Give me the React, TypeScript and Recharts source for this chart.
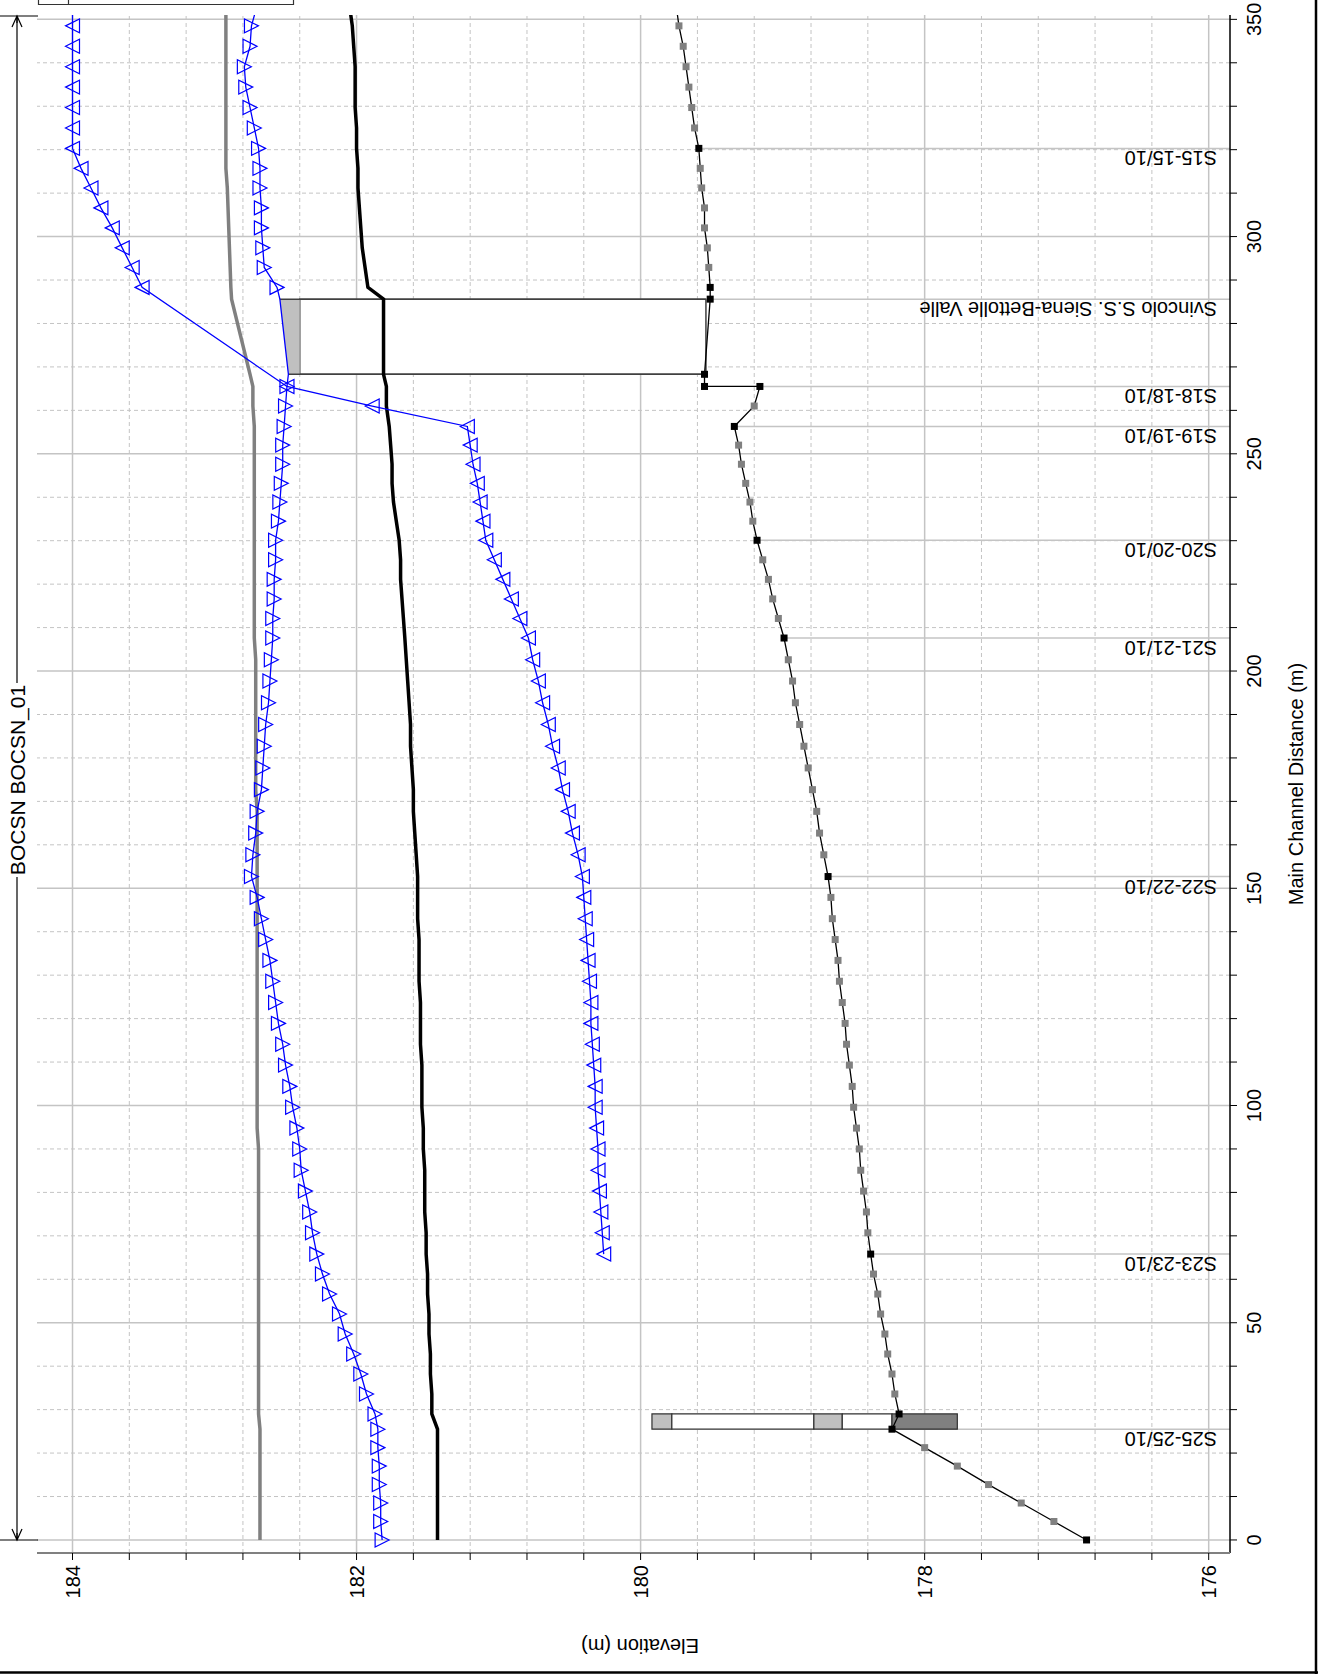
import React from 'react';
import { ComposedChart, Line, Area, XAxis, YAxis, ReferenceLine, ReferenceArea } from 'recharts';

// river stations along the main channel (m)
const stations = [
  0, 4.25, 8.5, 12.75, 17, 21.25, 25.5,
  29, 33.6, 38.2, 42.8, 47.4, 52, 56.6, 61.2,
  65.8, 70.7, 75.5, 80.3, 85.1, 90, 94.8, 99.6,
  104.4, 109.3, 114.1, 118.9, 123.7, 128.6, 133.4, 138.2,
  143, 147.9, 152.7,
  157.7, 162.7, 167.7, 172.7, 177.7, 182.7, 187.7, 192.7, 197.7, 202.6, 207.6,
  212.1, 216.6, 221.1, 225.6, 230.1,
  234.5, 238.9, 243.2, 247.6, 252, 256.3,
  261, 265.5,
  268.3, 285.6,
  288.3, 292.9, 297.4, 302, 306.6, 311.2, 315.7, 320.3,
  325, 329.7, 334.4, 339.1, 343.8, 348.5, 353.2,
];

// water surface, down triangles
const wsDown = [
  181.82, 181.83, 181.83, 181.84, 181.84, 181.85, 181.85,
  181.87, 181.93, 181.97, 182.02, 182.08, 182.12, 182.19, 182.24,
  182.28, 182.31, 182.33, 182.36, 182.39, 182.4, 182.42, 182.45,
  182.47, 182.5, 182.52, 182.55, 182.57, 182.59, 182.61, 182.64,
  182.67, 182.7, 182.74,
  182.73, 182.71, 182.7, 182.67, 182.66, 182.65, 182.64, 182.62, 182.61, 182.6, 182.59,
  182.59, 182.58, 182.58, 182.57, 182.57,
  182.55, 182.54, 182.53, 182.52, 182.52, 182.51,
  182.5, 182.49,
  182.48, 182.54,
  182.56, 182.65, 182.66, 182.67, 182.67, 182.68, 182.68, 182.69,
  182.72, 182.75, 182.78, 182.79, 182.75, 182.74, 182.7,
];

// water surface, up triangles
const wsUp = [
  null, null, null, null, null, null, null,
  null, null, null, null, null, null, null, null,
  180.26, 180.27, 180.28, 180.29, 180.3, 180.3, 180.31, 180.32,
  180.32, 180.33, 180.34, 180.35, 180.35, 180.36, 180.37, 180.38,
  180.39, 180.4, 180.41,
  180.44, 180.48, 180.51, 180.55, 180.58, 180.62, 180.65, 180.69, 180.72, 180.76, 180.79,
  180.85, 180.91, 180.97, 181.03, 181.09,
  181.11, 181.13, 181.15, 181.18, 181.2, 181.22,
  181.89, 182.49,
  null, null,
  183.51, 183.58, 183.65, 183.72, 183.8, 183.87, 183.94, 184,
  184, 184, 184, 184, 184, 184, 184,
];

// thick grey profile
const egGrey = [
  182.68, 182.68, 182.68, 182.68, 182.68, 182.68, 182.68,
  182.69, 182.69, 182.69, 182.69, 182.69, 182.69, 182.69, 182.69,
  182.69, 182.69, 182.69, 182.69, 182.69, 182.69, 182.7, 182.7,
  182.7, 182.7, 182.7, 182.7, 182.7, 182.7, 182.7, 182.7,
  182.7, 182.7, 182.7,
  182.7, 182.7, 182.7, 182.71, 182.71, 182.71, 182.71, 182.71, 182.71, 182.71, 182.72,
  182.72, 182.72, 182.72, 182.72, 182.72,
  182.72, 182.72, 182.72, 182.72, 182.72, 182.72,
  182.73, 182.73,
  182.75, 182.88,
  182.885, 182.89, 182.895, 182.9, 182.905, 182.91, 182.92, 182.92,
  182.92, 182.92, 182.92, 182.92, 182.92, 182.92, 182.92,
];

// thick black profile
const wsBlack = [
  181.43, 181.43, 181.43, 181.43, 181.43, 181.43, 181.43,
  181.47, 181.47, 181.48, 181.48, 181.49, 181.49, 181.5, 181.5,
  181.51, 181.51, 181.52, 181.52, 181.52, 181.53, 181.53, 181.54,
  181.54, 181.54, 181.55, 181.55, 181.55, 181.56, 181.56, 181.56,
  181.57, 181.57, 181.57,
  181.58, 181.59, 181.6, 181.6, 181.61, 181.62, 181.62, 181.63, 181.64, 181.65, 181.66,
  181.67, 181.68, 181.69, 181.69, 181.7,
  181.72, 181.74, 181.75, 181.75, 181.76, 181.77,
  181.79, 181.79,
  181.81, 181.81,
  181.92, 181.94, 181.96, 181.97, 181.98, 181.99, 181.99, 182,
  182, 182.01, 182.01, 182.01, 182.02, 182.03, 182.05,
];

// channel bed
const groundDist = [
  0, 4.25, 8.5, 12.75, 17, 21.25, 25.5,
  29, 33.6, 38.2, 42.8, 47.4, 52, 56.6, 61.2,
  65.8, 70.7, 75.5, 80.3, 85.1, 90, 94.8, 99.6,
  104.4, 109.3, 114.1, 118.9, 123.7, 128.6, 133.4, 138.2,
  143, 147.9, 152.7,
  157.7, 162.7, 167.7, 172.7, 177.7, 182.7, 187.7, 192.7, 197.7, 202.6, 207.6,
  212.1, 216.6, 221.1, 225.6, 230.1,
  234.5, 238.9, 243.2, 247.6, 252, 256.3,
  261, 265.5, 265.5,
  268.3, 285.6,
  288.3, 292.9, 297.4, 302, 306.6, 311.2, 315.7, 320.3,
  325, 329.7, 334.4, 339.1, 343.8, 348.5, 353.2,
];
const groundElev = [
  176.86, 177.09, 177.32, 177.55, 177.77, 178, 178.23,
  178.18, 178.21, 178.23, 178.26, 178.28, 178.31, 178.33, 178.36,
  178.38, 178.4, 178.41, 178.43, 178.45, 178.46, 178.48, 178.5,
  178.51, 178.53, 178.55, 178.56, 178.58, 178.6, 178.61, 178.63,
  178.65, 178.66, 178.68,
  178.71, 178.74, 178.76, 178.79, 178.82, 178.85, 178.88, 178.91, 178.93, 178.96, 178.99,
  179.03, 179.07, 179.1, 179.14, 179.18,
  179.21, 179.23, 179.26, 179.29, 179.31, 179.34,
  179.2, 179.16, 179.55,
  179.55, 179.51,
  179.51, 179.52, 179.53, 179.55, 179.55, 179.57, 179.58, 179.59,
  179.62, 179.64, 179.66, 179.68, 179.7, 179.73, 179.75,
];
// surveyed sections (black squares), the rest are interpolated
const surveyed = [0, 25.5, 29, 65.8, 152.7, 207.6, 230.1, 256.3, 265.5, 268.3, 285.6, 288.3, 320.3];
const noMarker = [268.3, 285.6];

const sectionLabels = [
  { name: 'S25-25/10', d: 25.5 },
  { name: 'S23-23/10', d: 65.8 },
  { name: 'S22-22/10', d: 152.7 },
  { name: 'S21-21/10', d: 207.6 },
  { name: 'S20-20/10', d: 230.1 },
  { name: 'S19-19/10', d: 256.3 },
  { name: 'S18-18/10', d: 265.5 },
  { name: 'Svincolo S.S. Siena-Bettolle Valle', d: 285.6 },
  { name: 'S15-15/10', d: 320.3 },
];

// culvert (Svincolo): faces, invert, soffit, deck top at each face
const culvertFaces = [268.3, 285.6];
const culvertInvert = 179.54;
const culvertSoffit = 182.4;
const deckTop = [182.48, 182.54];

// weir / drop structure near S25
const weirFaces = [25.5, 29];
const weirBlocks = [
  [179.78, 179.92],
  [178.78, 179.78],
  [178.58, 178.78],
  [178.23, 178.58],
  [177.77, 178.23],
];
const weirFills = ['#c0c0c0', '#ffffff', '#c0c0c0', '#ffffff', '#808080'];

const distTicks = [0, 10, 20, 30, 40, 50, 60, 70, 80, 90, 100, 110, 120, 130, 140, 150, 160, 170, 180, 190, 200,
  210, 220, 230, 240, 250, 260, 270, 280, 290, 300, 310, 320, 330, 340, 350];
const elevTicks = [176, 176.4, 176.8, 177.2, 177.6, 178, 178.4, 178.8, 179.2, 179.6, 180, 180.4, 180.8, 181.2,
  181.6, 182, 182.4, 182.8, 183.2, 183.6, 184];

const X_DOMAIN = [-3, 351];
const Y_DOMAIN = [175.85, 184.25];

const FONT = '"Liberation Sans", Arial, Helvetica, sans-serif';
const W = 1674;
const H = 1318;
const GRID = '#c4c4c4';

const isMajorDist = (v: number) => v % 50 === 0;
const isMajorElev = (v: number) => Number.isInteger(v) && v % 2 === 0;

const series = (vals: (number | null)[]) =>
  stations.map((d, i) => ({ d, v: vals[i] })).filter((p) => p.v !== null);

const groundData = groundDist.map((d, i) => ({ d, v: groundElev[i] }));
const deckData = culvertFaces.map((d, i) => ({ d, v: [culvertSoffit, deckTop[i]] }));

const bedAt = (d: number) => Math.min(...groundDist.map((g, i) => (g === d ? groundElev[i] : Infinity)));

const showMarker = (d: number) => d <= X_DOMAIN[1] && !noMarker.includes(d);

const DistTick = (p: any) =>
  isMajorDist(p.payload.value) ? (
    <text x={p.x} y={p.y} dy="0.71em" textAnchor="middle" fontSize={20} fontFamily={FONT} fill="#000">
      {p.payload.value}
    </text>
  ) : (
    <g />
  );

const ElevTick = (p: any) =>
  isMajorElev(p.payload.value) ? (
    <text x={p.x} y={p.y} dy="0.355em" textAnchor="end" fontSize={20} fontFamily={FONT} fill="#000">
      {p.payload.value}
    </text>
  ) : (
    <g />
  );

const stationLabel = (name: string) => (props: any) => {
  const vb = props.viewBox;
  if (!vb) return <g />;
  const x = vb.x - 3;
  const y = vb.y + vb.height - 13;
  return (
    <text x={x} y={y} transform={`rotate(-90 ${x} ${y})`} fontSize={20} fontFamily={FONT} fill="#000">
      {name}
    </text>
  );
};

const upDot = (p: any) => {
  if (!showMarker(p.payload.d)) return <g key={`u${p.index}`} />;
  const { cx, cy } = p;
  return (
    <path key={`u${p.index}`} d={`M${cx},${cy - 7}L${cx + 7},${cy + 7}L${cx - 7},${cy + 7}Z`}
      fill="none" stroke="#0000ff" strokeWidth={1.2} />
  );
};

const downDot = (p: any) => {
  if (!showMarker(p.payload.d)) return <g key={`w${p.index}`} />;
  const { cx, cy } = p;
  return (
    <path key={`w${p.index}`} d={`M${cx},${cy + 7}L${cx + 7},${cy - 7}L${cx - 7},${cy - 7}Z`}
      fill="none" stroke="#0000ff" strokeWidth={1.2} />
  );
};

const groundDot = (p: any) => {
  if (p.payload.d > X_DOMAIN[1]) return <g key={`g${p.index}`} />;
  const black = surveyed.includes(p.payload.d);
  return (
    <rect key={`g${p.index}`} x={p.cx - 3.5} y={p.cy - 3.5} width={7} height={7}
      fill={black ? '#000' : '#808080'} stroke="none" />
  );
};

const Overlay = () => (
  <svg width={W} height={H} style={{ position: 'absolute', left: 0, top: 0, pointerEvents: 'none' }}>
    {/* frame */}
    <line x1={1.5} y1={0} x2={1.5} y2={H} stroke="#000" strokeWidth={2.5} />
    <line x1={0} y1={1316} x2={W} y2={1316} stroke="#000" strokeWidth={2.5} />
    {/* legend box edge */}
    <path d="M1674,38.5 H1669.5 V293.5 H1674 M1669.5,68.5 H1674" fill="none" stroke="#333" strokeWidth={1.2} />
    {/* reach extent bracket */}
    <line x1={134} y1={0} x2={134} y2={38} stroke="#000" strokeWidth={1.2} />
    <line x1={1658} y1={0} x2={1658} y2={38} stroke="#000" strokeWidth={1.2} />
    <line x1={134} y1={17} x2={797} y2={17} stroke="#000" strokeWidth={1.2} />
    <line x1={991} y1={17} x2={1658} y2={17} stroke="#000" strokeWidth={1.2} />
    <path d="M145,12 L134,17 L145,22 M141,17 L134,17" fill="none" stroke="#000" strokeWidth={1.2} />
    <path d="M1647,12 L1658,17 L1647,22 M1651,17 L1658,17" fill="none" stroke="#000" strokeWidth={1.2} />
    <text x={894} y={25} textAnchor="middle" fontSize={21} fontFamily={FONT} fill="#000">BOCSN BOCSN_01</text>
    {/* axis titles */}
    <text x={890} y={1303} textAnchor="middle" fontSize={20} fontFamily={FONT} fill="#000">
      Main Channel Distance (m)
    </text>
    <text x={35} y={640} textAnchor="middle" transform="rotate(-90 35 640)" fontSize={20} fontFamily={FONT} fill="#000">
      Elevation (m)
    </text>
  </svg>
);

export default function App() {
  return (
    <div style={{ position: 'absolute', left: 0, top: 0, width: 1318, height: 1674, overflow: 'hidden', background: '#fff' }}>
      <div
        style={{
          position: 'absolute', left: 0, top: 0, width: W, height: H,
          transformOrigin: '0 0', transform: `translateY(${W}px) rotate(-90deg)`,
        }}
      >
        <ComposedChart width={W} height={H} margin={{ top: 37, right: 15, bottom: 0, left: 0 }}>
          <XAxis type="number" dataKey="d" domain={X_DOMAIN} allowDataOverflow ticks={distTicks} interval={0}
            height={88} tickSize={7} tickMargin={10} tick={DistTick}
            axisLine={{ stroke: '#000', strokeWidth: 1.5 }} tickLine={{ stroke: '#000' }} />
          <YAxis type="number" domain={Y_DOMAIN} allowDataOverflow ticks={elevTicks} interval={0}
            width={121} tickSize={7} tickMargin={5} tick={ElevTick}
            axisLine={{ stroke: '#808080', strokeWidth: 2 }} tickLine={{ stroke: '#000' }} />

          {distTicks.filter((v) => !isMajorDist(v)).map((v) => (
            <ReferenceLine key={`dx${v}`} x={v} stroke={GRID} strokeDasharray="4 3" strokeWidth={1} zIndex={-50} />
          ))}
          {elevTicks.filter((v) => !isMajorElev(v)).map((v) => (
            <ReferenceLine key={`dy${v}`} y={v} stroke={GRID} strokeDasharray="4 3" strokeWidth={1} zIndex={-50} />
          ))}
          {distTicks.filter(isMajorDist).map((v) => (
            <ReferenceLine key={`mx${v}`} x={v} stroke={GRID} strokeWidth={1.5} zIndex={-50} />
          ))}
          {elevTicks.filter(isMajorElev).map((v) => (
            <ReferenceLine key={`my${v}`} y={v} stroke={GRID} strokeWidth={1.5} zIndex={-50} />
          ))}

          {sectionLabels.map((s) => (
            <ReferenceLine key={s.name}
              segment={[{ x: s.d, y: bedAt(s.d) }, { x: s.d, y: Y_DOMAIN[0] }]}
              stroke={GRID} strokeWidth={1.5} zIndex={-40} label={stationLabel(s.name)} />
          ))}

          {weirBlocks.map((b, i) => (
            <ReferenceArea key={`wb${i}`} x1={weirFaces[0]} x2={weirFaces[1]} y1={b[0]} y2={b[1]}
              fill={weirFills[i]} fillOpacity={1} stroke="#303030" strokeWidth={1.2} zIndex={50} />
          ))}
          <ReferenceArea x1={culvertFaces[0]} x2={culvertFaces[1]} y1={culvertInvert} y2={culvertSoffit}
            fill="#fff" fillOpacity={1} stroke="#404040" strokeWidth={1.5} zIndex={50} />
          <Area data={deckData} dataKey="v" type="linear" isAnimationActive={false}
            fill="#c0c0c0" fillOpacity={1} stroke="none" dot={false} activeDot={false} />
          {culvertFaces.map((d, i) => (
            <ReferenceLine key={`cf${i}`} segment={[{ x: d, y: deckTop[i] }, { x: d, y: culvertInvert }]}
              stroke="#404040" strokeWidth={1.5} zIndex={110} />
          ))}

          <Line data={series(egGrey)} dataKey="v" type="linear" isAnimationActive={false}
            stroke="#808080" strokeWidth={3.5} dot={false} activeDot={false} />
          <Line data={series(wsBlack)} dataKey="v" type="linear" isAnimationActive={false}
            stroke="#000" strokeWidth={3.5} dot={false} activeDot={false} />
          <Line data={groundData} dataKey="v" type="linear" isAnimationActive={false}
            stroke="#000" strokeWidth={1.3} dot={groundDot} activeDot={false} />
          <Line data={series(wsUp)} dataKey="v" type="linear" isAnimationActive={false}
            stroke="#0000ff" strokeWidth={1.3} dot={upDot} activeDot={false} />
          <Line data={series(wsDown)} dataKey="v" type="linear" isAnimationActive={false}
            stroke="#0000ff" strokeWidth={1.3} dot={downDot} activeDot={false} />
        </ComposedChart>
        <Overlay />
      </div>
    </div>
  );
}
